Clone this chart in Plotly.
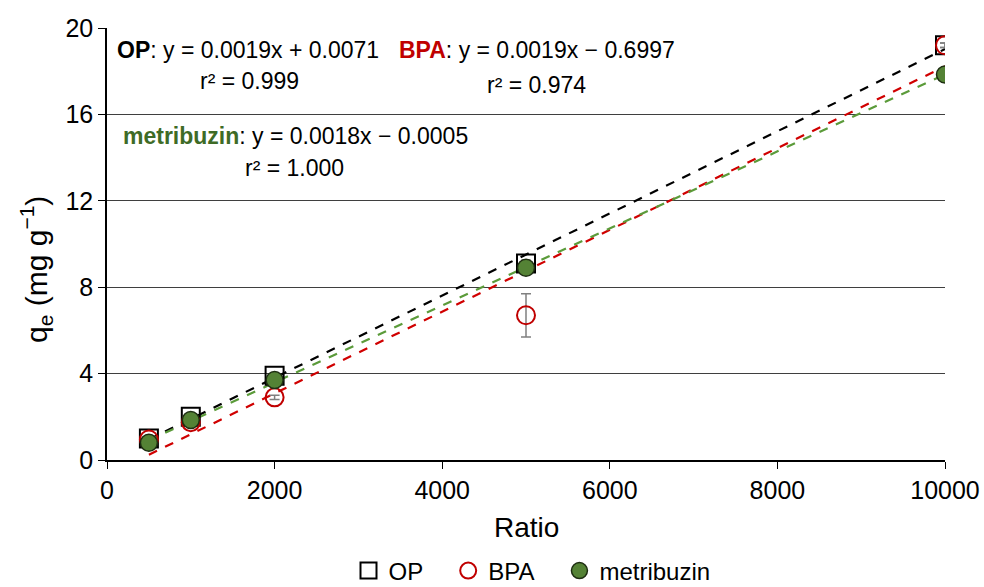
import numpy as np
import plotly.graph_objects as go

ratio = [500, 1000, 2000, 5000, 10000]
op = [1.0, 2.0, 3.9, 9.1, 19.2]
op_err = [0.05, 0.05, 0.05, 0.15, 0.1]
bpa = [0.95, 1.75, 2.9, 6.7, 19.2]
bpa_err = [0.05, 0.1, 0.1, 1.0, 0.1]
met = [0.8, 1.85, 3.7, 8.9, 17.85]
met_err = [0.05, 0.05, 0.05, 0.05, 0.05]

FONT = "Liberation Sans"
L, R, T, B = 107, 39, 28, 127
W, H = 984, 587
pw, ph = W - L - R, H - T - B
NB = "\u00a0"

def px(x):
    return (x - L) / pw

def py(y):
    return (H - B - y) / ph

fig = go.Figure()

def fit_line(yv, color):
    m, c = np.polyfit(ratio, yv, 1)
    xs = [ratio[0], ratio[-1]]
    fig.add_trace(go.Scatter(x=xs, y=[m * v + c for v in xs], mode="lines",
                             line=dict(color=color, width=2.2, dash="dash"),
                             showlegend=False, hoverinfo="skip"))

fit_line(op, "#000000")
fit_line(bpa, "#D00000")
fit_line(met, "#5B9B3A")

fig.add_trace(go.Scatter(x=ratio, y=op, mode="markers", name="OP" + NB * 3,
                         marker=dict(symbol="square-open", size=18, color="#000000",
                                     line=dict(width=2, color="#000000")),
                         error_y=dict(type="data", array=op_err, color="#808080",
                                      thickness=1.5, width=5)))
fig.add_trace(go.Scatter(x=ratio, y=bpa, mode="markers", name="BPA" + NB * 3,
                         marker=dict(symbol="circle-open", size=18, color="#C00000",
                                     line=dict(width=2, color="#C00000")),
                         error_y=dict(type="data", array=bpa_err, color="#808080",
                                      thickness=1.5, width=5)))
fig.add_trace(go.Scatter(x=ratio, y=met, mode="markers", name="metribuzin",
                         marker=dict(symbol="circle", size=17, color="#548235",
                                     line=dict(width=1.5, color="#1e2e12")),
                         error_y=dict(type="data", array=met_err, color="#808080",
                                      thickness=1.5, width=5)))

afont = dict(family=FONT, size=23, color="#000000")
ann = [
    (248, 50, "<b>OP</b>: y = 0.0019x + 0.0071"),
    (249, 81, "r² = 0.999"),
    (537, 50, "<b><span style='color:#C00000'>BPA</span></b>: y = 0.0019x − 0.6997"),
    (536, 85, "r² = 0.974"),
    (295, 136, "<b><span style='color:#3E6B26'>metribuzin</span></b>: y = 0.0018x − 0.0005"),
    (294, 168, "r² = 1.000"),
]
for x, y, t in ann:
    fig.add_annotation(x=px(x), y=py(y), xref="paper", yref="paper", text=t,
                       showarrow=False, font=afont, xanchor="center", yanchor="middle")

# y-axis title
fig.add_annotation(x=px(36), y=py(270), xref="paper", yref="paper",
                   text="q<sub>e</sub> (mg g<sup>−1</sup>)", textangle=-90,
                   showarrow=False, font=dict(family=FONT, size=30, color="#000000"),
                   xanchor="center", yanchor="middle")
# x-axis title
fig.add_annotation(x=px(526), y=py(527), xref="paper", yref="paper",
                   text="Ratio", showarrow=False,
                   font=dict(family=FONT, size=28, color="#000000"),
                   xanchor="center", yanchor="middle")

fig.update_layout(
    width=W, height=H,
    margin=dict(l=L, r=R, t=T, b=B, autoexpand=False),
    plot_bgcolor="white", paper_bgcolor="white",
    font=dict(family=FONT, size=25, color="#000000"),
    showlegend=True,
    legend=dict(orientation="h", x=px(532), xanchor="center", y=py(571), yanchor="middle",
                font=dict(family=FONT, size=24), itemwidth=30, traceorder="normal",
                tracegroupgap=0),
    xaxis=dict(range=[0, 10000], dtick=2000, tick0=0, showgrid=False, tickformat="d",
               showline=True, linecolor="#000000", linewidth=1.5,
               ticks="outside", ticklen=7, tickcolor="#000000",
               tickfont=dict(size=25), zeroline=False),
    yaxis=dict(range=[0, 20], dtick=4, tick0=0, showgrid=True, gridcolor="#3f3f3f",
               gridwidth=1, showline=True, linecolor="#000000", linewidth=1.5,
               ticks="outside", ticklen=7, tickcolor="#000000",
               tickfont=dict(size=25), zeroline=False),
)

fig.write_html("out.html")
